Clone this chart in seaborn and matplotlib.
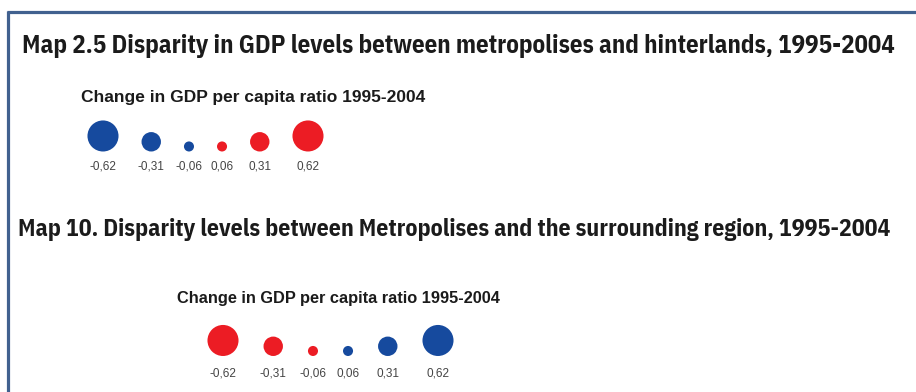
import matplotlib
matplotlib.use("Agg")
import matplotlib.pyplot as plt
from matplotlib import font_manager
import seaborn as sns
import pandas as pd

# ---------------- data ----------------
title_top = "Map 2.5 Disparity in GDP levels between metropolises and hinterlands, 1995-2004"
title_bottom = "Map 10. Disparity levels between Metropolises and the surrounding region, 1995-2004"
legend_title = "Change in GDP per capita ratio 1995-2004"
values = [-0.62, -0.31, -0.06, 0.06, 0.31, 0.62]
sign_top = ["neg", "neg", "neg", "pos", "pos", "pos"]
palette_top = {"neg": "#164a9e", "pos": "#ec1c24"}
palette_bottom = {"neg": "#ec1c24", "pos": "#164a9e"}

# ---------------- style ----------------
sns.set_theme(style="white")
bold_faces = {}
for f in font_manager.fontManager.ttflist:
    w = f.weight if isinstance(f.weight, int) else 400
    if w >= 600 and "Italic" not in f.fname:
        bold_faces[f.name] = f.fname
narrow = "DejaVu Sans"
for cand in ["IBM Plex Sans Condensed", "Roboto Condensed", "PT Sans Narrow",
             "Asap Condensed", "Barlow Condensed"]:
    if cand in bold_faces:
        narrow = cand
        break
plt.rcParams["font.family"] = ["Liberation Sans", "DejaVu Sans"]

W, H = 916, 392
fig = plt.figure(figsize=(W / 100, H / 100), dpi=100)
ax = fig.add_axes([0, 0, 1, 1])
ax.set_xlim(0, W)
ax.set_ylim(H, 0)
ax.axis("off")

# frame
border = "#41618f"
ax.plot([7, W], [12, 12], color=border, lw=2.3, solid_capstyle="butt")
ax.plot([8, 8], [11, H], color=border, lw=2.3, solid_capstyle="butt")

renderer = fig.canvas.get_renderer()


def fit_text(x, y, s, width, size, **kw):
    t = ax.text(x, y, s, fontsize=size, ha="left", va="center", **kw)
    w = t.get_window_extent(renderer).width
    t.set_fontsize(size * width / w)
    return t


def radius(v):
    return 3.9 + 18.75 * abs(v)


def legend_block(x0, y_bottom, y_lab, palette, gap):
    r = [radius(v) for v in values]
    xs = [x0]
    for i in range(1, len(values)):
        xs.append(xs[-1] + r[i - 1] + gap + r[i])
    df = pd.DataFrame({
        "x": xs,
        "y": [y_bottom - ri for ri in r],
        "sign": sign_top,
        "r": r,
    })
    sizes = {ri: (2 * ri * 0.72) ** 2 for ri in r}
    sns.scatterplot(data=df, x="x", y="y", hue="sign", palette=palette,
                    size="r", sizes=sizes, linewidth=0, legend=False, ax=ax)
    for xi, v in zip(xs, values):
        ax.text(xi, y_lab, f"{v:.2f}".replace(".", ","), fontsize=8.5,
                color="#444444", ha="center", va="center")


# top panel
fit_text(22, 46, title_top, 876, 17, family=[narrow, "DejaVu Sans"],
         fontweight="bold", color="#1b1b1b")
fit_text(81, 97, legend_title, 343, 12, fontweight="bold", color="#1b1b1b")
legend_block(103, 151.5, 166, palette_top, 23)

# bottom panel
fit_text(18, 229, title_bottom, 875, 17, family=[narrow, "DejaVu Sans"],
         fontweight="bold", color="#1b1b1b")
fit_text(177, 298, legend_title, 323, 12, fontweight="bold", color="#1b1b1b")
legend_block(223, 356, 373, palette_bottom, 25)

ax.set_xlim(0, W)
ax.set_ylim(H, 0)
fig.savefig("out.png", dpi=100)
